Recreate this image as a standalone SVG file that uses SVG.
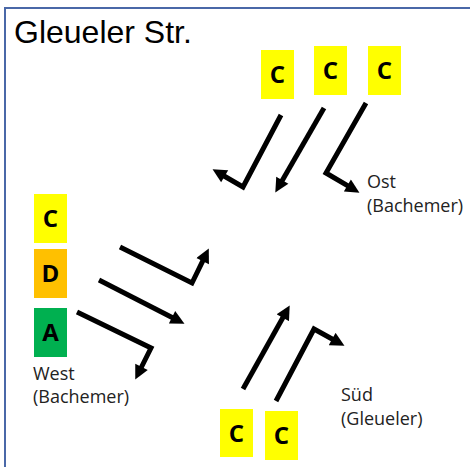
<svg xmlns="http://www.w3.org/2000/svg" width="470" height="467" viewBox="0 0 470 467">
<style>
.box-y{fill:#FFFF00}
.box-o{fill:#FFC000}
.box-g{fill:#00B050}
.lt{font-family:"Open Sans","Liberation Sans",sans-serif;font-weight:bold;font-size:24px;fill:#000;text-anchor:middle}
.lbl{font-family:"Open Sans","Liberation Sans",sans-serif;font-size:18px;fill:#222}
.arr{fill:none;stroke:#000;stroke-width:5;stroke-linejoin:miter;marker-end:url(#ah)}
</style>
<defs>
<marker id="ah" viewBox="0 0 10 10" refX="4" refY="5" markerWidth="3" markerHeight="2.8" orient="auto" markerUnits="strokeWidth">
<path d="M0,0 L10,5 L0,10 z" fill="#000"/>
</marker>
</defs>
<rect width="470" height="467" fill="#fff"/>
<rect x="5" y="8" width="480" height="480" fill="none" stroke="#4a68a8" stroke-width="2"/>
<text x="14" y="43" font-family="Liberation Sans, Arial, sans-serif" font-size="32" fill="#000">Gleueler Str.</text>

<g id="connectors">
<polyline class="arr" points="281,115 243,187 219.8,173.5"/>
<polyline class="arr" points="324,108 279.5,185.2"/>
<polyline class="arr" points="366,103 326,173 352.2,188.4"/>
<polyline class="arr" points="120,247 192,283 205.1,256.1"/>
<polyline class="arr" points="99,280 177,319.9"/>
<polyline class="arr" points="77,312 151,348 139,372"/>
<polyline class="arr" points="243,389 285.6,312.8"/>
<polyline class="arr" points="276,401 314,329 337.1,341.7"/>
</g>

<g id="ost-c1"><rect class="box-y" x="261" y="50" width="33" height="49"/><text class="lt" x="277.5" y="83">C</text></g>
<g id="ost-c2"><rect class="box-y" x="314" y="46" width="33" height="49"/><text class="lt" x="330.5" y="79">C</text></g>
<g id="ost-c3"><rect class="box-y" x="368" y="46" width="33" height="49"/><text class="lt" x="384.5" y="79">C</text></g>

<g id="west-c"><rect class="box-y" x="34" y="194" width="33" height="49"/><text class="lt" x="50.5" y="227">C</text></g>
<g id="west-d"><rect class="box-o" x="34" y="249" width="33" height="49"/><text class="lt" x="50.5" y="282">D</text></g>
<g id="west-a"><rect class="box-g" x="34" y="308" width="33" height="49"/><text class="lt" x="50.5" y="341">A</text></g>

<g id="sued-c1"><rect class="box-y" x="220" y="409" width="33" height="48"/><text class="lt" x="236.5" y="442">C</text></g>
<g id="sued-c2"><rect class="box-y" x="265" y="411" width="33" height="49"/><text class="lt" x="281.5" y="444">C</text></g>

<g id="label-ost"><text class="lbl" x="367" y="188">Ost</text><text class="lbl" x="367" y="212">(Bachemer)</text></g>
<g id="label-west"><text class="lbl" x="33" y="380">West</text><text class="lbl" x="33" y="403">(Bachemer)</text></g>
<g id="label-sued"><text class="lbl" x="341" y="401">Süd</text><text class="lbl" x="341" y="425">(Gleueler)</text></g>
</svg>
